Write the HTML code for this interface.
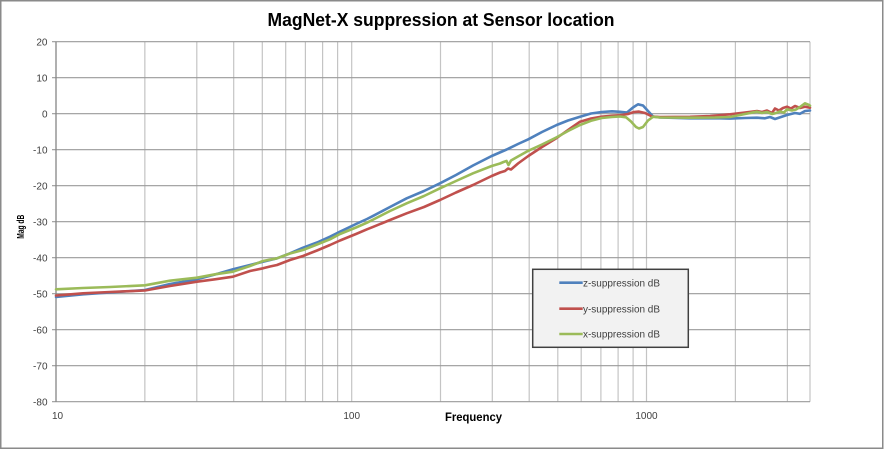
<!DOCTYPE html>
<html><head><meta charset="utf-8"><style>
html,body{margin:0;padding:0;background:#fff;}
svg{display:block;}
text{font-family:"Liberation Sans",sans-serif;}
</style></head><body>
<svg width="884" height="450" viewBox="0 0 884 450" xmlns="http://www.w3.org/2000/svg">
<rect x="0" y="0" width="884" height="450" fill="#fff"/>
<rect x="0.75" y="0.75" width="882" height="447.5" fill="none" stroke="#8a8a8a" stroke-width="1.5"/>
<text x="441" y="26" text-anchor="middle" font-size="18" font-weight="bold" fill="#000" textLength="347" lengthAdjust="spacingAndGlyphs">MagNet-X suppression at Sensor location</text>
<g stroke="#c4c4c4" stroke-width="1.2">
<line x1="144.85" y1="41.7" x2="144.85" y2="401.7"/>
<line x1="196.8" y1="41.7" x2="196.8" y2="401.7"/>
<line x1="233.7" y1="41.7" x2="233.7" y2="401.7"/>
<line x1="262.3" y1="41.7" x2="262.3" y2="401.7"/>
<line x1="285.7" y1="41.7" x2="285.7" y2="401.7"/>
<line x1="305.4" y1="41.7" x2="305.4" y2="401.7"/>
<line x1="322.6" y1="41.7" x2="322.6" y2="401.7"/>
<line x1="337.6" y1="41.7" x2="337.6" y2="401.7"/>
<line x1="351.7" y1="41.7" x2="351.7" y2="401.7"/>
<line x1="440.5" y1="41.7" x2="440.5" y2="401.7"/>
<line x1="492.3" y1="41.7" x2="492.3" y2="401.7"/>
<line x1="529.2" y1="41.7" x2="529.2" y2="401.7"/>
<line x1="557.8" y1="41.7" x2="557.8" y2="401.7"/>
<line x1="581.2" y1="41.7" x2="581.2" y2="401.7"/>
<line x1="600.9" y1="41.7" x2="600.9" y2="401.7"/>
<line x1="618.1" y1="41.7" x2="618.1" y2="401.7"/>
<line x1="633.1" y1="41.7" x2="633.1" y2="401.7"/>
<line x1="646.5" y1="41.7" x2="646.5" y2="401.7"/>
<line x1="735.4" y1="41.7" x2="735.4" y2="401.7"/>
<line x1="787.4" y1="41.7" x2="787.4" y2="401.7"/>
<line x1="810" y1="41.7" x2="810" y2="401.7"/>
</g>
<g stroke="#9a9a9a" stroke-width="1.2">
<line x1="52" y1="41.7" x2="810" y2="41.7"/>
<line x1="52" y1="77.7" x2="810" y2="77.7"/>
<line x1="52" y1="113.7" x2="810" y2="113.7"/>
<line x1="52" y1="149.7" x2="810" y2="149.7"/>
<line x1="52" y1="185.7" x2="810" y2="185.7"/>
<line x1="52" y1="221.7" x2="810" y2="221.7"/>
<line x1="52" y1="257.7" x2="810" y2="257.7"/>
<line x1="52" y1="293.7" x2="810" y2="293.7"/>
<line x1="52" y1="329.7" x2="810" y2="329.7"/>
<line x1="52" y1="365.7" x2="810" y2="365.7"/>
<line x1="52" y1="401.7" x2="810" y2="401.7"/>
</g>
<line x1="56" y1="41.7" x2="56" y2="401.7" stroke="#868686" stroke-width="1.3"/>
<g font-size="10" fill="#404040" text-anchor="end">
<text x="47.5" y="45.3">20</text>
<text x="47.5" y="81.3">10</text>
<text x="47.5" y="117.3">0</text>
<text x="47.5" y="153.3">-10</text>
<text x="47.5" y="189.3">-20</text>
<text x="47.5" y="225.3">-30</text>
<text x="47.5" y="261.3">-40</text>
<text x="47.5" y="297.3">-50</text>
<text x="47.5" y="333.3">-60</text>
<text x="47.5" y="369.3">-70</text>
<text x="47.5" y="405.3">-80</text>
</g>
<g font-size="10" fill="#404040" text-anchor="middle">
<text x="57.5" y="419">10</text>
<text x="351.7" y="419">100</text>
<text x="646.5" y="419">1000</text>
</g>
<text x="473.5" y="421" text-anchor="middle" font-size="11.5" font-weight="bold" fill="#000" textLength="57" lengthAdjust="spacingAndGlyphs">Frequency</text>
<text transform="translate(24,226.7) rotate(-90)" text-anchor="middle" font-size="10.5" font-weight="bold" fill="#000" textLength="24" lengthAdjust="spacingAndGlyphs">Mag dB</text>
<g fill="none" stroke-width="2.6" stroke-linejoin="round" stroke-linecap="round">
<polyline stroke="#4F81BD" points="56,297 83,294.3 110,292.5 145,290 170,284 197,279.3 215,274.5 233,269.3 250,265 263,261.7 277,258.3 290,253.3 303,247.7 317,242.5 330,236.7 340,231.7 356,224 367,219 373.3,215.8 390,207 406.7,198.3 424,191 440,183.3 456,175 473,165.5 491.7,156 506.7,149.5 518,144 528.3,139.3 542,132 556.7,125 568,120.5 580,116.7 591,113.5 601.7,112 612,111.3 620,111.8 627,112.5 633,107.5 638,104.3 643,105.5 648,111 653,116.5 660,117.5 690,118.3 720,118.3 730,118.6 745,118 757,117.7 765,118.3 770,117 775,119 781,117 787,115 795,113 800,113.8 805,111 810,110.5"/>
<polyline stroke="#C0504D" points="56,295.5 83,293.3 110,292 145,290.5 170,286 197,281.7 215,279.3 233,276.7 250,271 263,268.3 270,266.5 277,265 290,260 303,256 317,250.5 330,245 340,240.5 356,234 367,229.3 373.3,226.8 390,220 406.7,213.3 424,207 440,200 456,192.5 473,185 491.7,176 500,172.5 505,171 508,168.5 511,169.5 518,163.5 528.3,156 542,147 556.7,138 568,130 580,121.7 591,118.5 601.7,116.7 612,115.8 620,115.3 628,114 634,112 639,111.6 645,113 652,116.5 660,117 690,116.8 710,116 730,114.3 745,112.5 757,111 762,112 767,110.5 772,113 775,108.5 779,110.5 783,108 787,106.7 791,108.5 795,106 800,108 805,106.7 810,107.7"/>
<polyline stroke="#9BBB59" points="56,289.3 83,288 110,287 145,285.3 170,280.7 197,277.7 215,274.3 233,271.7 250,266 263,261 277,258.3 290,253.5 303,250 317,244.5 330,239.3 340,234 356,227.5 367,222.7 373.3,219.5 390,211 406.7,203.3 424,196 440,188.3 456,181 473,173.3 491.7,166 500,163.5 503.5,162 506.5,161 508.5,165 511,160.5 518,156.5 528.3,150.8 542,144.5 556.7,137.3 568,131 580,125 591,120.8 601.7,118 612,117 620,116.5 626,117.3 631,121.5 636,127 639,128.5 643,127 648,120.5 653,116.8 660,117.5 690,117.7 715,117.5 730,117 745,114 757,111.7 762,113 767,112 772,114 775,113.3 780,111.5 784,112.5 787,109.3 792,110.5 796,109.5 800,107 805,103.3 809,105 810,105.7"/>
</g>
<rect x="532.7" y="269.3" width="155.6" height="78" fill="#f2f2f2" stroke="#404040" stroke-width="1.5"/>
<g stroke-width="2.6">
<line x1="559.3" y1="282.7" x2="582.7" y2="282.7" stroke="#4F81BD"/>
<line x1="559.3" y1="308.7" x2="582.7" y2="308.7" stroke="#C0504D"/>
<line x1="559.3" y1="334" x2="582.7" y2="334" stroke="#9BBB59"/>
</g>
<g font-size="10" fill="#404040">
<text x="583" y="286.3" textLength="77" lengthAdjust="spacingAndGlyphs">z-suppression dB</text>
<text x="583" y="312.3" textLength="77" lengthAdjust="spacingAndGlyphs">y-suppression dB</text>
<text x="583" y="337.6" textLength="77" lengthAdjust="spacingAndGlyphs">x-suppression dB</text>
</g>
</svg>
</body></html>
